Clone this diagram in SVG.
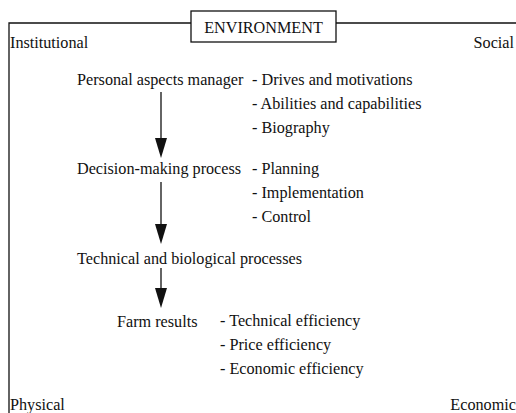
<svg xmlns="http://www.w3.org/2000/svg" width="516" height="413" viewBox="0 0 516 413">
  <style>
    text { font-family: "Liberation Serif", "Times New Roman", serif; font-size: 16.2px; fill: #111; }
    .frame { fill: none; stroke: #111; stroke-width: 1.3; }
    .flow { stroke: #111; stroke-width: 1.3; fill: none; }
    .head { fill: #111; }
  </style>

  <!-- environment frame with its four corner labels -->
  <g id="environment">
    <path class="frame" d="M9,413 V23 H191 M336,23 H516"/>
    <rect class="frame" x="191" y="11" width="145" height="31" fill="#fff"/>
    <text x="263.5" y="33" text-anchor="middle">ENVIRONMENT</text>
    <text x="10" y="48">Institutional</text>
    <text x="514" y="48" text-anchor="end">Social</text>
    <text x="10" y="410">Physical</text>
    <text x="516" y="410" text-anchor="end">Economic</text>
  </g>

  <g id="personal">
    <text x="77" y="85">Personal aspects manager</text>
    <text x="252" y="85">- Drives and motivations</text>
    <text x="252" y="109">- Abilities and capabilities</text>
    <text x="252" y="133">- Biography</text>
  </g>

  <g id="decision">
    <text x="77" y="174">Decision-making process</text>
    <text x="252" y="174">- Planning</text>
    <text x="252" y="198">- Implementation</text>
    <text x="252" y="222">- Control</text>
  </g>

  <g id="processes">
    <text x="77" y="264">Technical and biological processes</text>
  </g>

  <g id="results">
    <text x="117" y="327">Farm results</text>
    <text x="220" y="326">- Technical efficiency</text>
    <text x="220" y="350">- Price efficiency</text>
    <text x="220" y="374">- Economic efficiency</text>
  </g>

  <!-- downward flow arrows -->
  <g id="connectors">
    <path d="M161,92 V138" class="flow"/>
    <path d="M155,138 L167,138 L161,158 Z" class="head"/>
    <path d="M161,182 V224" class="flow"/>
    <path d="M155,224 L167,224 L161,244 Z" class="head"/>
    <path d="M161,268 V288" class="flow"/>
    <path d="M155,288 L167,288 L161,308 Z" class="head"/>
  </g>
</svg>
